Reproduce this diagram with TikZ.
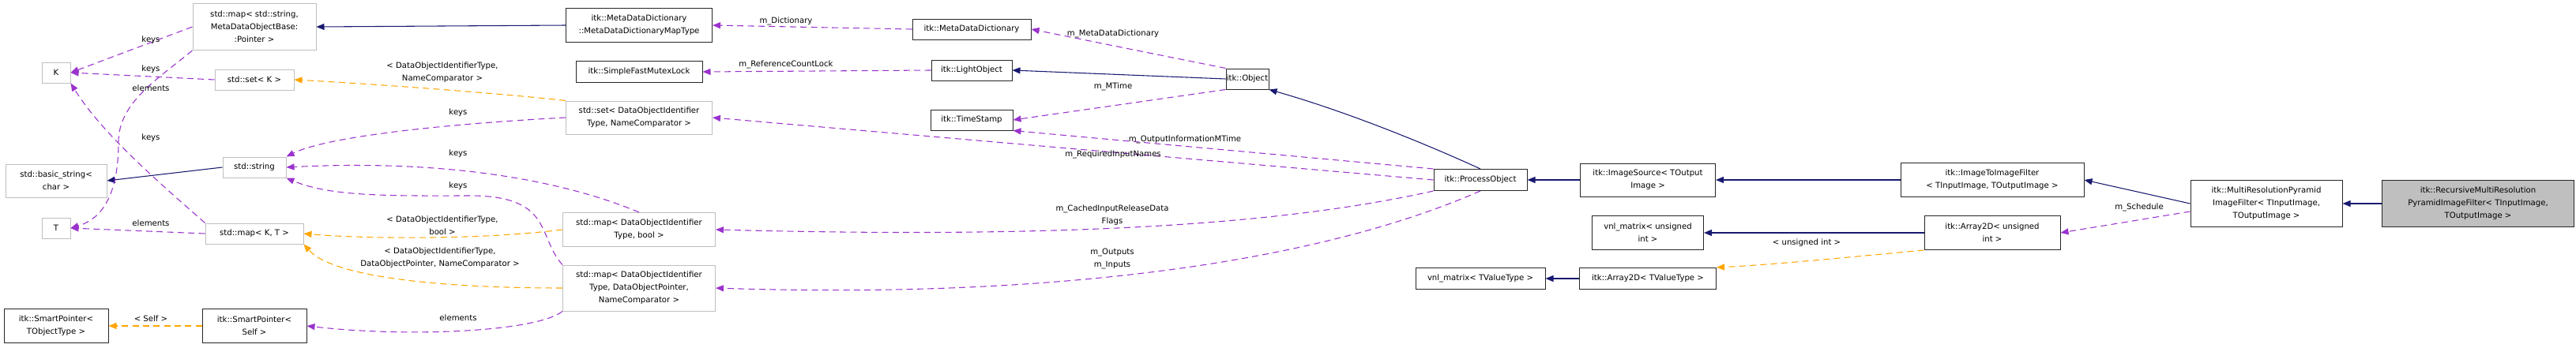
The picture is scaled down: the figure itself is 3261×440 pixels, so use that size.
\documentclass[tikz,border=0pt]{standalone}
\usepackage{fontspec}
\setmainfont{DejaVu Sans}
\newcommand{\nrw}[1]{#1}
\usetikzlibrary{arrows.meta}
\definecolor{navy}{HTML}{191970}
\definecolor{purp}{HTML}{9A32CD}
\definecolor{orng}{HTML}{FFA500}
\definecolor{gbord}{HTML}{BFBFBF}
\definecolor{gfill}{HTML}{BFBFBF}
\begin{document}
\begin{tikzpicture}[x=0.75pt,y=-0.75pt,
  every node/.style={font=\fontsize{7.6pt}{12pt}\selectfont, inner sep=0pt, align=center},
  box/.style={draw=black!85, line width=0.75pt, fill=white},
  gbox/.style={draw=gbord, line width=0.75pt, fill=white},
  tip/.style={-{Triangle[length=7.5pt,width=6pt]}},
  inh/.style={tip, draw=navy, line width=0.8pt},
  mem/.style={tip, draw=purp, line width=0.8pt, dash pattern=on 6pt off 4pt},
  tpl/.style={tip, draw=orng, line width=0.8pt, dash pattern=on 6pt off 4pt},
  lab/.style={font=\fontsize{7.6pt}{12pt}\selectfont}
]
\useasboundingbox (0,0) rectangle (3261,440);
% nodes
\node[gbox, minimum width=156*0.75pt, minimum height=59*0.75pt] (smap) at (322,34) {std::map< std::string,\\MetaDataObjectBase:\\:Pointer >};
\node[gbox, minimum width=36*0.75pt, minimum height=26*0.75pt] (K) at (71,92) {K};
\node[gbox, minimum width=100*0.75pt, minimum height=26*0.75pt] (setK) at (322,101) {std::set< K >};
\node[gbox, minimum width=128*0.75pt, minimum height=42*0.75pt] (bstr) at (71,229) {std::basic\_string<\\char >};
\node[gbox, minimum width=80*0.75pt, minimum height=26*0.75pt] (str) at (322,212) {std::string};
\node[gbox, minimum width=36*0.75pt, minimum height=26*0.75pt] (T) at (71,289) {T};
\node[gbox, minimum width=124*0.75pt, minimum height=26*0.75pt] (mapKT) at (322,296) {std::map< K, T >};
\node[box, minimum width=132*0.75pt, minimum height=43*0.75pt] (spT) at (71,413) {itk::SmartPointer<\\TObjectType >};
\node[box, minimum width=132*0.75pt, minimum height=43*0.75pt] (spS) at (322,413) {itk::SmartPointer<\\Self >};
\node[box, minimum width=185*0.75pt, minimum height=43*0.75pt] (mdmt) at (809,32) {itk::MetaDataDictionary\\::MetaDataDictionaryMapType};
\node[box, minimum width=160*0.75pt, minimum height=27*0.75pt] (mutex) at (809,91) {itk::SimpleFastMutexLock};
\node[gbox, minimum width=185*0.75pt, minimum height=42*0.75pt] (setD) at (809,149) {std::set< DataObjectIdentifier\\Type, NameComparator >};
\node[gbox, minimum width=193*0.75pt, minimum height=43*0.75pt] (mapB) at (809,291) {std::map< DataObjectIdentifier\\Type, bool >};
\node[gbox, minimum width=193*0.75pt, minimum height=58*0.75pt] (mapP) at (809,365) {std::map< DataObjectIdentifier\\Type, DataObjectPointer,\\NameComparator >};
\node[box, minimum width=150*0.75pt, minimum height=26*0.75pt] (mdd) at (1230,37) {itk::MetaDataDictionary};
\node[box, minimum width=102*0.75pt, minimum height=26*0.75pt] (light) at (1230,89) {itk::LightObject};
\node[box, minimum width=104*0.75pt, minimum height=26*0.75pt] (ts) at (1230,152) {itk::TimeStamp};
\node[box, minimum width=54*0.75pt, minimum height=26*0.75pt] (obj) at (1579,100) {itk::Object};
\node[box, minimum width=118*0.75pt, minimum height=27*0.75pt] (po) at (1874,228) {itk::ProcessObject};
\node[box, minimum width=171*0.75pt, minimum height=42*0.75pt] (isrc) at (2086,228) {itk::ImageSource< TOutput\\Image >};
\node[box, minimum width=141*0.75pt, minimum height=43*0.75pt] (vnlU) at (2086,295) {vnl\_matrix< unsigned\\int >};
\node[box, minimum width=164*0.75pt, minimum height=27*0.75pt] (vnlT) at (1874,353) {vnl\_matrix< TValueType >};
\node[box, minimum width=173*0.75pt, minimum height=27*0.75pt] (arrT) at (2086,353) {itk::Array2D< TValueType >};
\node[box, minimum width=232*0.75pt, minimum height=43*0.75pt] (i2i) at (2522,228) {itk::ImageToImageFilter\\< TInputImage, TOutputImage >};
\node[box, minimum width=172*0.75pt, minimum height=43*0.75pt] (arrU) at (2522,295) {itk::Array2D< unsigned\\int >};
\node[box, minimum width=192*0.75pt, minimum height=59*0.75pt] (mrp) at (2869,258) {itk::MultiResolutionPyramid\\ImageFilter< TInputImage,\\TOutputImage >};
\node[box, fill=gfill, minimum width=243*0.75pt, minimum height=59*0.75pt] (rec) at (3137,258) {itk::RecursiveMultiResolution\\PyramidImageFilter< TInputImage,\\TOutputImage >};

% inheritance
\draw[inh] (mdmt.west) -- (smap.east);
\draw[inh] (str.west) -- (bstr.east);
\draw[inh] (obj.west) -- (light.east);
\draw[inh] (po.north) .. controls (1800,180) and (1700,140) .. (obj.south east);
\draw[inh] (isrc.west) -- (po.east);
\draw[inh] (i2i.west) -- (isrc.east);
\draw[inh] (mrp.west) -- (i2i.east);
\draw[inh] (rec.west) -- (mrp.east);
\draw[inh] (arrU.west) -- (vnlU.east);
\draw[inh] (arrT.west) -- (vnlT.east);

% members
\draw[mem] (smap.west) -- (K.east);
\node[lab] (lk1) at (191,51) {keys};
\draw[mem] (setK.west) -- (K.east);
\node[lab] (lk2) at (191,88) {keys};
\draw[mem] (mapKT.north west) ..controls (200,230) and (130,170).. (K.south east);
\node[lab] (lk3) at (191,175) {keys};
\draw[mem] (smap.south west) ..controls (200,100) and (150,130).. (150,180) ..controls (150,260) and (120,280).. (T.east);
\node[lab] (le1) at (191,112) {elements};
\draw[mem] (mapKT.west) -- (T.east);
\node[lab] (le0) at (191,283) {elements};
\draw[mem] (setD.west) ..controls (600,155) and (420,170).. (str.north east);
\node[lab] (lk4) at (580,143) {keys};
\draw[mem] (mapB.north) ..controls (740,240) and (600,200).. (str.east);
\node[lab] (lk5) at (580,195) {keys};
\draw[mem] (mapP.north west) ..controls (680,300) and (700,250).. (600,248) ..controls (500,248) and (420,250).. (str.south east);
\node[lab] (lk6) at (580,236) {keys};
\draw[mem] (mapP.south west) ..controls (680,420) and (520,428).. (spS.east);
\node[lab] (le2) at (580,403) {elements};
\draw[mem] (mdd.west) -- (mdmt.east);
\node[lab] (ld) at (995,27) {m\_Dictionary};
\draw[mem] (light.west) -- (mutex.east);
\node[lab] (lr) at (995,82) {m\_ReferenceCountLock};
\draw[mem] (obj.north west) -- (mdd.east);
\node[lab] (lmd) at (1409,43) {m\_MetaDataDictionary};
\draw[mem] (obj.south west) -- (ts.east);
\node[lab] (lmt) at (1409,110) {m\_MTime};
\draw[mem] (po.north west) -- (ts.south east);
\node[lab] (lom) at (1500,177) {m\_OutputInformationMTime};
\draw[mem] (po.west) -- (setD.east);
\node[lab] (lri) at (1409,196) {m\_RequiredInputNames};
\draw[mem] (po.south west) ..controls (1600,290) and (1300,301).. (mapB.east);
\node[lab] (lci) at (1408,273) {m\_CachedInputReleaseData\\Flags};
\draw[mem] (po.south) ..controls (1650,340) and (1300,378).. (mapP.east);
\node[lab] (lmo) at (1408,328) {m\_Outputs\\m\_Inputs};
\draw[mem] (mrp.west |- 2773,268) -- (arrU.east);
\node[lab] (ls) at (2708,263) {m\_Schedule};

% templates
\draw[tpl] (setD.north west) ..controls (650,120) and (500,108).. (setK.east);
\node[lab] (lt1) at (560,92) {< DataObjectIdentifierType,\\NameComparator >};
\draw[tpl] (mapB.west) ..controls (600,305) and (450,302).. (mapKT.east);
\node[lab] (lt2) at (560,286) {< DataObjectIdentifierType,\\bool >};
\draw[tpl] (mapP.west) ..controls (550,365) and (420,350).. (mapKT.south east);
\node[lab] (lt3) at (557,327) {< DataObjectIdentifierType,\\DataObjectPointer, NameComparator >};
\draw[tpl] (spS.west) -- (spT.east);
\node[lab] (lsf) at (191,404) {< Self >};
\draw[tpl] (arrU.south west) ..controls (2350,325) and (2250,335).. (arrT.north east);
\node[lab] (lt4) at (2287,308) {< unsigned int >};
\end{tikzpicture}
\end{document}
